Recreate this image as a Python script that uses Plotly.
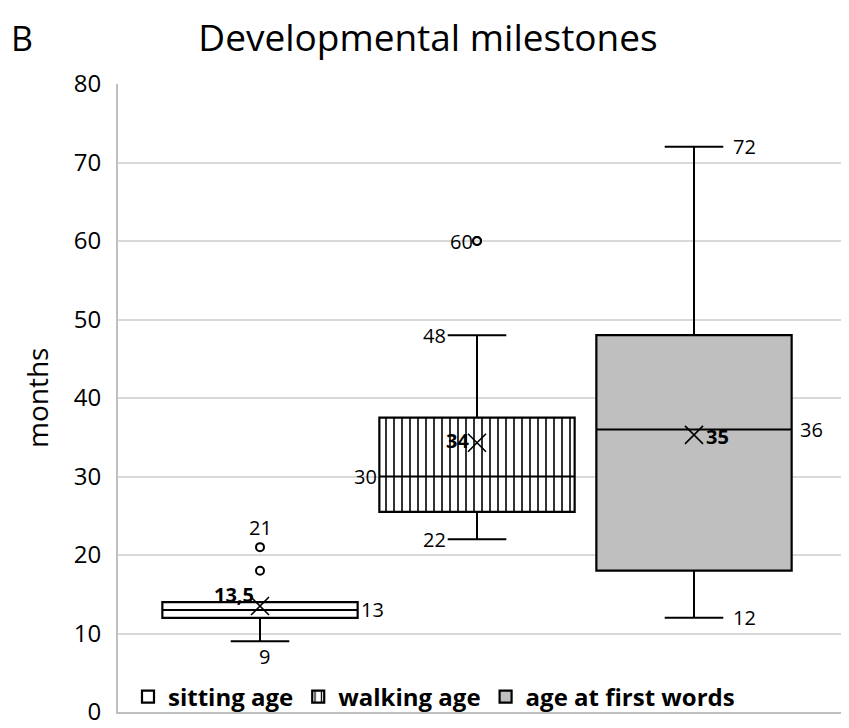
import plotly.graph_objects as go

categories = ["sitting age", "walking age", "age at first words"]
q1 = [12, 25.5, 18]
median = [13, 30, 36]
q3 = [14, 37.5, 48]
whisker_low = [9, 22, 12]
whisker_high = [14, 48, 72]
means = [13.5, 34.3, 35.3]
mean_labels = ["13,5", "34", "35"]
outliers = [[18, 21], [60, 60], []]
yticks = [0, 10, 20, 30, 40, 50, 60, 70, 80]

xpos = [0, 1, 2]
BW = 0.9
CAP = 0.27
FONT = "Open Sans"
LINE = "#000000"

# page body adds an 8px offset; figure geometry compensates
OFF = 8
W, H = 849 - OFF, 728 - OFF
L, T, B = 118 - OFF, 84 - OFF, 16
PW = W - L
PH = H - T - B

fig = go.Figure()

fills = ["#ffffff", "#ffffff", "#bfbfbf"]
patterns = [dict(shape=""), dict(shape="|", size=8, solidity=0.2, fgcolor="#000000", bgcolor="#ffffff", fillmode="replace"), dict(shape="")]

# whiskers (behind boxes)
for i in range(3):
    fig.add_trace(go.Scatter(x=[xpos[i], xpos[i]], y=[whisker_low[i], q1[i]], mode="lines",
                             line=dict(color=LINE, width=2), showlegend=False, hoverinfo="skip"))
    fig.add_trace(go.Scatter(x=[xpos[i], xpos[i]], y=[q3[i], whisker_high[i]], mode="lines",
                             line=dict(color=LINE, width=2), showlegend=False, hoverinfo="skip"))
    fig.add_trace(go.Scatter(x=[xpos[i] - CAP / 2, xpos[i] + CAP / 2], y=[whisker_low[i]] * 2, mode="lines",
                             line=dict(color=LINE, width=2), showlegend=False, hoverinfo="skip"))
    if whisker_high[i] > q3[i]:
        fig.add_trace(go.Scatter(x=[xpos[i] - CAP / 2, xpos[i] + CAP / 2], y=[whisker_high[i]] * 2, mode="lines",
                                 line=dict(color=LINE, width=2), showlegend=False, hoverinfo="skip"))

# boxes
for i in range(3):
    fig.add_trace(go.Bar(x=[xpos[i]], y=[q3[i] - q1[i]], base=[q1[i]], width=BW, name=categories[i],
                         marker=dict(color=fills[i], line=dict(color=LINE, width=2.2), pattern=patterns[i]),
                         showlegend=True))

# medians
for i in range(3):
    fig.add_trace(go.Scatter(x=[xpos[i] - BW / 2, xpos[i] + BW / 2], y=[median[i]] * 2, mode="lines",
                             line=dict(color=LINE, width=2), showlegend=False, hoverinfo="skip"))

# means
fig.add_trace(go.Scatter(x=xpos, y=means, mode="markers",
                         marker=dict(symbol="x-thin", size=18, color=LINE, line=dict(color=LINE, width=1.6)),
                         showlegend=False, hoverinfo="skip"))

# outliers
ox, oy = [], []
for i in range(3):
    for v in outliers[i]:
        ox.append(xpos[i])
        oy.append(v)
fig.add_trace(go.Scatter(x=ox, y=oy, mode="markers",
                         marker=dict(symbol="circle-open", size=8, color=LINE, line=dict(color=LINE, width=2)),
                         showlegend=False, hoverinfo="skip"))

def fmt(v):
    return str(v).replace(".", ",")

LBL = dict(family=FONT, size=20, color="#000000")
BLBL = dict(family=FONT, size=20, color="#000000", weight="bold")
ann = []
# sitting
ann.append(dict(x=xpos[0], y=outliers[0][1], text=fmt(outliers[0][1]), xanchor="center", yanchor="bottom", yshift=4, font=LBL))
ann.append(dict(x=xpos[0], y=means[0], text=mean_labels[0], xanchor="right", yanchor="bottom", xshift=-4, yshift=-4, font=BLBL))
ann.append(dict(x=xpos[0] + BW / 2, y=median[0], text=fmt(median[0]), xanchor="left", yanchor="middle", xshift=1, font=LBL))
ann.append(dict(x=xpos[0], y=whisker_low[0], text=fmt(whisker_low[0]), xanchor="center", yanchor="top", xshift=4, yshift=0, font=LBL))
# walking
ann.append(dict(x=xpos[1], y=outliers[1][0], text=fmt(outliers[1][0]), xanchor="right", yanchor="middle", xshift=-2, font=LBL))
ann.append(dict(x=xpos[1] - CAP / 2, y=whisker_high[1], text=fmt(whisker_high[1]), xanchor="right", yanchor="middle", font=LBL))
ann.append(dict(x=xpos[1], y=means[1], text=mean_labels[1], xanchor="right", yanchor="middle", xshift=-6, yshift=2, font=BLBL))
ann.append(dict(x=xpos[1] - BW / 2, y=median[1], text=fmt(median[1]), xanchor="right", yanchor="middle", font=LBL))
ann.append(dict(x=xpos[1] - CAP / 2, y=whisker_low[1], text=fmt(whisker_low[1]), xanchor="right", yanchor="middle", font=LBL))
# first words
ann.append(dict(x=xpos[2] + CAP / 2, y=whisker_high[2], text=fmt(whisker_high[2]), xanchor="left", yanchor="middle", xshift=8, font=LBL))
ann.append(dict(x=xpos[2] + BW / 2, y=median[2], text=fmt(median[2]), xanchor="left", yanchor="middle", xshift=6, font=LBL))
ann.append(dict(x=xpos[2], y=means[2], text=mean_labels[2], xanchor="left", yanchor="middle", xshift=10, yshift=-2, font=BLBL))
ann.append(dict(x=xpos[2] + CAP / 2, y=whisker_low[2], text=fmt(whisker_low[2]), xanchor="left", yanchor="middle", xshift=8, font=LBL))
for a in ann:
    a.update(xref="x", yref="y", showarrow=False)

ann.append(dict(x=(22 - 118) / PW, y=(712 - 38) / PH, xref="paper", yref="paper", text="B", showarrow=False,
                xanchor="center", yanchor="middle", font=dict(family=FONT, size=34, color="#000000")))
ann.append(dict(x=(37 - 118) / PW, y=0.5, xref="paper", yref="paper", text="months", showarrow=False,
                textangle=-90, xanchor="center", yanchor="middle", font=dict(family=FONT, size=28, color="#000000")))

fig.update_layout(
    width=W, height=H,
    margin=dict(l=L, r=0, t=T, b=B),
    paper_bgcolor="white", plot_bgcolor="white",
    title=dict(text="Developmental milestones", x=(428 - OFF) / W, xref="container", xanchor="center",
               y=1 - (38 - OFF) / H, yref="container", yanchor="middle",
               font=dict(family=FONT, size=37, color="#000000")),
    showlegend=True,
    legend=dict(orientation="h", x=10 / PW, y=-0.012, xanchor="left", yanchor="bottom",
                bgcolor="rgba(0,0,0,0)", font=dict(family=FONT, size=24, color="#000000", weight="bold"),
                itemwidth=30, tracegroupgap=0),
    barmode="overlay",
    annotations=ann,
)
fig.update_xaxes(range=[(118 - 260) / 217, (849 - 260) / 217], showgrid=False, showticklabels=False,
                 zeroline=False, showline=True, linecolor="#bfbfbf", linewidth=2, ticks="", automargin=False)
fig.update_yaxes(range=[0, 80], tickvals=yticks, ticktext=[str(t) for t in yticks], showgrid=True,
                 gridcolor="#d9d9d9", gridwidth=2, zeroline=False, showline=True, linecolor="#bfbfbf",
                 linewidth=2, ticks="", ticklabelstandoff=10, automargin=False,
                 tickfont=dict(family=FONT, size=24, color="#000000"))

fig.write_html("out.html")
